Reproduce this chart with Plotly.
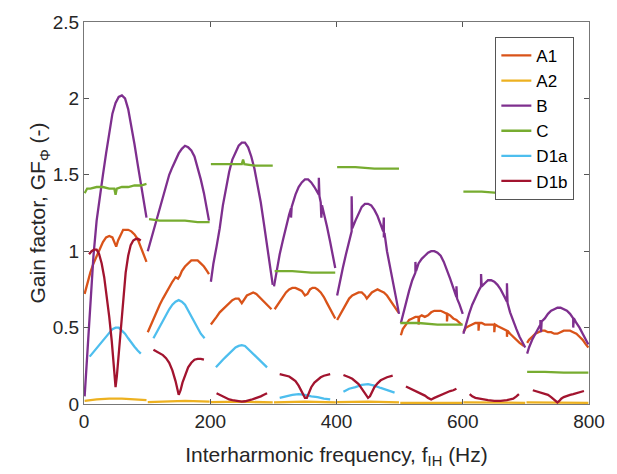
import plotly.graph_objects as go

# Gain factor per interharmonic band (Hz, gain); each inner list is one 100 Hz band
A1 = [
    [(1, 0.72), (5, 0.79), (10, 0.86), (15, 0.92), (20, 0.97), (25, 1.02), (30, 1.06), (35, 1.09),
     (40, 1.10), (45, 1.09), (48, 1.06), (51, 1.03), (54, 1.07), (58, 1.11), (62, 1.14), (66, 1.14),
     (70, 1.14), (75, 1.13), (80, 1.11), (85, 1.08), (90, 1.03), (95, 0.98), (99, 0.93)],
    [(101, 0.47), (105, 0.51), (110, 0.56), (115, 0.61), (120, 0.65), (125, 0.69), (130, 0.73),
     (135, 0.77), (140, 0.80), (145, 0.83), (149, 0.82), (152, 0.84), (155, 0.87), (160, 0.90),
     (165, 0.92), (170, 0.94), (175, 0.94), (180, 0.94), (185, 0.92), (190, 0.90), (195, 0.87), (198, 0.85)],
    [(201, 0.52), (205, 0.54), (210, 0.57), (215, 0.60), (220, 0.62), (225, 0.64), (230, 0.66),
     (235, 0.68), (240, 0.69), (245, 0.69), (250, 0.66), (253, 0.68), (258, 0.71), (263, 0.72),
     (268, 0.73), (273, 0.72), (278, 0.70), (283, 0.68), (288, 0.66), (293, 0.64), (297, 0.62)],
    [(302, 0.62), (305, 0.64), (310, 0.67), (315, 0.70), (320, 0.73), (325, 0.75), (330, 0.76),
     (335, 0.76), (340, 0.75), (345, 0.74), (350, 0.71), (354, 0.72), (358, 0.75), (362, 0.76),
     (366, 0.76), (370, 0.75), (375, 0.73), (380, 0.70), (385, 0.66), (390, 0.62), (395, 0.58), (398, 0.56)],
    [(401, 0.55), (405, 0.58), (410, 0.62), (415, 0.66), (420, 0.69), (425, 0.71), (430, 0.72),
     (435, 0.73), (440, 0.73), (445, 0.71), (448, 0.69), (452, 0.71), (456, 0.73), (460, 0.74),
     (465, 0.75), (470, 0.74), (475, 0.73), (480, 0.71), (485, 0.68), (490, 0.65), (495, 0.62), (498, 0.60)],
    [(502, 0.45), (505, 0.49), (510, 0.52), (515, 0.55), (520, 0.56), (525, 0.57), (530, 0.57),
     (530, 0.52), (531, 0.57), (535, 0.58), (540, 0.57), (545, 0.58), (550, 0.60), (555, 0.61),
     (560, 0.61), (565, 0.61), (570, 0.60), (575, 0.59), (575, 0.54), (576, 0.59), (580, 0.58),
     (585, 0.56), (590, 0.55), (595, 0.53), (598, 0.52)],
    [(601, 0.47), (605, 0.50), (610, 0.51), (615, 0.52), (620, 0.53), (625, 0.53), (625, 0.48),
     (626, 0.53), (630, 0.53), (635, 0.52), (640, 0.52), (645, 0.52), (650, 0.52), (650, 0.47),
     (651, 0.52), (655, 0.51), (660, 0.50), (665, 0.49), (670, 0.48), (670, 0.44), (671, 0.48),
     (675, 0.46), (680, 0.44), (685, 0.42), (690, 0.40), (697, 0.38)],
    [(702, 0.40), (705, 0.42), (710, 0.44), (715, 0.46), (720, 0.47), (725, 0.48), (730, 0.48),
     (735, 0.47), (740, 0.47), (745, 0.46), (750, 0.46), (755, 0.47), (760, 0.48), (765, 0.48),
     (770, 0.48), (775, 0.47), (780, 0.46), (785, 0.44), (790, 0.42), (795, 0.39), (799, 0.37)],
]

A2 = [
    [(1, 0.020), (20, 0.030), (40, 0.035), (60, 0.035), (80, 0.030), (99, 0.025)],
    [(101, 0.012), (130, 0.018), (160, 0.020), (199, 0.015)],
    [(201, 0.012), (250, 0.015), (299, 0.010)],
    [(301, 0.010), (350, 0.015), (399, 0.010)],
    [(401, 0.012), (450, 0.015), (499, 0.010)],
    [(501, 0.008), (550, 0.010), (599, 0.008)],
    [(601, 0.010), (650, 0.010), (699, 0.008)],
    [(701, 0.010), (750, 0.010), (799, 0.008)],
]

B = [
    [(1, 0.05), (5, 0.30), (10, 0.62), (15, 0.97), (20, 1.20), (25, 1.36), (30, 1.50), (35, 1.64),
     (40, 1.78), (45, 1.90), (50, 1.97), (55, 2.01), (60, 2.02), (65, 2.00), (70, 1.93), (75, 1.82),
     (80, 1.70), (85, 1.57), (90, 1.45), (95, 1.33), (99, 1.22)],
    [(101, 1.00), (105, 1.06), (110, 1.13), (115, 1.20), (120, 1.27), (125, 1.35), (130, 1.43),
     (135, 1.50), (140, 1.55), (145, 1.60), (150, 1.64), (155, 1.67), (160, 1.69), (165, 1.68),
     (170, 1.66), (175, 1.62), (180, 1.55), (185, 1.47), (190, 1.38), (195, 1.27), (198, 1.20)],
    [(201, 0.80), (205, 0.92), (210, 1.03), (215, 1.15), (220, 1.30), (225, 1.42), (230, 1.52),
     (235, 1.60), (240, 1.65), (245, 1.69), (250, 1.71), (255, 1.71), (260, 1.68), (265, 1.62),
     (270, 1.54), (275, 1.43), (280, 1.32), (285, 1.18), (290, 1.04), (295, 0.90), (299, 0.78)],
    [(301, 0.77), (305, 0.87), (310, 0.98), (315, 1.07), (320, 1.16), (325, 1.24), (328, 1.28),
     (328, 1.22), (329, 1.29), (335, 1.37), (340, 1.42), (345, 1.45), (350, 1.47), (355, 1.47),
     (360, 1.45), (365, 1.42), (370, 1.38), (372, 1.37), (372, 1.48), (373, 1.36), (375, 1.32),
     (376, 1.22), (377, 1.30), (380, 1.25), (385, 1.16), (390, 1.06), (395, 0.96), (398, 0.89)],
    [(401, 0.71), (405, 0.80), (410, 0.89), (415, 0.98), (420, 1.07), (424, 1.13), (424, 1.36),
     (425, 1.15), (430, 1.20), (435, 1.25), (440, 1.29), (445, 1.31), (450, 1.31), (455, 1.30),
     (460, 1.27), (465, 1.23), (470, 1.18), (474, 1.13), (475, 1.22), (475, 1.09), (476, 1.12),
     (480, 1.00), (485, 0.90), (490, 0.78), (495, 0.68), (499, 0.59)],
    [(502, 0.53), (505, 0.58), (510, 0.66), (515, 0.74), (520, 0.81), (525, 0.86), (525, 0.93),
     (526, 0.87), (530, 0.92), (535, 0.95), (540, 0.97), (545, 0.99), (550, 1.00), (555, 1.00),
     (560, 0.99), (565, 0.97), (570, 0.93), (575, 0.88), (580, 0.82), (585, 0.76), (590, 0.70),
     (590, 0.77), (591, 0.69), (595, 0.65), (600, 0.59)],
    [(601, 0.46), (605, 0.52), (610, 0.59), (615, 0.65), (620, 0.70), (625, 0.74), (629, 0.77),
     (629, 0.85), (630, 0.77), (635, 0.79), (640, 0.81), (645, 0.81), (650, 0.80), (655, 0.78),
     (660, 0.75), (665, 0.71), (670, 0.67), (670, 0.79), (671, 0.66), (675, 0.60), (680, 0.54),
     (685, 0.49), (690, 0.44), (695, 0.40), (699, 0.37)],
    [(702, 0.33), (705, 0.37), (710, 0.42), (715, 0.46), (720, 0.50), (723, 0.52), (723, 0.55),
     (724, 0.47), (725, 0.54), (730, 0.56), (735, 0.59), (740, 0.61), (745, 0.62), (750, 0.63),
     (755, 0.63), (760, 0.62), (765, 0.61), (770, 0.59), (775, 0.56), (775, 0.50), (776, 0.56),
     (780, 0.53), (785, 0.50), (790, 0.46), (795, 0.42), (799, 0.39)],
]

C = [
    [(1, 1.38), (5, 1.41), (10, 1.41), (20, 1.42), (30, 1.42), (40, 1.41), (48, 1.41), (50, 1.37),
     (52, 1.41), (60, 1.42), (70, 1.42), (80, 1.43), (90, 1.43), (99, 1.44)],
    [(103, 1.21), (120, 1.20), (140, 1.20), (160, 1.20), (180, 1.19), (199, 1.19)],
    [(201, 1.57), (220, 1.57), (240, 1.57), (250, 1.57), (252, 1.60), (254, 1.57), (270, 1.56), (299, 1.56)],
    [(302, 0.87), (330, 0.87), (360, 0.86), (398, 0.86)],
    [(401, 1.55), (430, 1.55), (460, 1.54), (499, 1.54)],
    [(501, 0.53), (530, 0.53), (560, 0.52), (600, 0.52)],
    [(601, 1.39), (630, 1.39), (660, 1.38), (699, 1.38)],
    [(702, 0.21), (730, 0.21), (760, 0.205), (799, 0.205)],
]

D1a = [
    [(9, 0.31), (15, 0.34), (20, 0.365), (25, 0.39), (30, 0.415), (35, 0.44), (40, 0.465), (45, 0.49),
     (50, 0.50), (55, 0.50), (60, 0.48), (65, 0.46), (70, 0.43), (75, 0.40), (80, 0.375), (85, 0.35), (90, 0.33)],
    [(110, 0.43), (115, 0.47), (120, 0.51), (125, 0.55), (130, 0.58), (135, 0.62), (140, 0.65),
     (145, 0.67), (150, 0.68), (155, 0.67), (160, 0.65), (165, 0.61), (170, 0.57), (175, 0.53),
     (180, 0.50), (185, 0.46), (191, 0.43)],
    [(209, 0.24), (215, 0.27), (220, 0.29), (225, 0.31), (230, 0.33), (235, 0.35), (240, 0.37),
     (245, 0.38), (250, 0.385), (255, 0.38), (260, 0.36), (265, 0.34), (270, 0.32), (275, 0.30),
     (280, 0.28), (285, 0.26), (290, 0.24)],
    [(310, 0.04), (320, 0.05), (330, 0.06), (340, 0.065), (350, 0.06), (360, 0.05), (370, 0.045),
     (380, 0.035), (390, 0.03)],
    [(411, 0.08), (420, 0.10), (430, 0.11), (440, 0.125), (450, 0.13), (460, 0.12), (470, 0.105),
     (480, 0.09), (492, 0.075)],
]

D1b = [
    [(8, 0.98), (12, 1.00), (16, 1.01), (20, 1.01), (24, 0.98), (28, 0.92), (32, 0.83), (36, 0.71),
     (40, 0.57), (44, 0.41), (47, 0.27), (50, 0.11), (52, 0.18), (55, 0.32), (58, 0.47), (62, 0.66),
     (66, 0.86), (70, 0.97), (74, 1.04), (78, 1.07), (82, 1.08), (86, 1.08), (90, 1.07)],
    [(110, 0.355), (115, 0.345), (120, 0.33), (125, 0.32), (130, 0.30), (135, 0.27), (140, 0.22),
     (145, 0.15), (150, 0.06), (153, 0.09), (156, 0.14), (160, 0.19), (165, 0.24), (170, 0.27),
     (175, 0.29), (180, 0.295), (185, 0.295), (190, 0.29)],
    [(210, 0.07), (215, 0.06), (220, 0.045), (225, 0.035), (230, 0.03), (235, 0.025), (240, 0.02),
     (245, 0.018), (250, 0.015), (255, 0.018), (260, 0.022), (265, 0.028), (270, 0.035), (275, 0.04),
     (280, 0.05), (285, 0.06), (290, 0.07)],
    [(310, 0.195), (315, 0.19), (320, 0.185), (325, 0.18), (330, 0.165), (335, 0.15), (340, 0.12),
     (345, 0.08), (350, 0.04), (353, 0.04), (356, 0.07), (360, 0.11), (365, 0.14), (370, 0.16),
     (375, 0.175), (380, 0.185), (385, 0.19), (390, 0.195)],
    [(411, 0.19), (415, 0.185), (420, 0.175), (425, 0.165), (430, 0.15), (435, 0.13), (440, 0.10),
     (445, 0.07), (450, 0.04), (453, 0.05), (456, 0.08), (460, 0.11), (465, 0.135), (470, 0.155),
     (475, 0.165), (480, 0.175), (489, 0.185)],
    [(510, 0.115), (515, 0.105), (520, 0.095), (525, 0.09), (530, 0.08), (535, 0.07), (540, 0.055),
     (545, 0.04), (550, 0.03), (555, 0.04), (560, 0.05), (565, 0.06), (570, 0.07), (575, 0.08),
     (580, 0.085), (585, 0.09), (590, 0.10)],
    [(611, 0.065), (615, 0.05), (620, 0.04), (625, 0.035), (630, 0.03), (640, 0.025), (650, 0.02),
     (660, 0.02), (670, 0.025), (675, 0.03), (680, 0.035), (685, 0.05), (689, 0.065)],
    [(711, 0.09), (715, 0.085), (720, 0.08), (725, 0.075), (730, 0.07), (735, 0.06), (740, 0.045),
     (745, 0.03), (750, 0.01), (753, 0.02), (756, 0.035), (760, 0.045), (765, 0.055), (770, 0.06),
     (775, 0.065), (780, 0.07), (785, 0.075), (792, 0.085)],
]

series_names = ["A1", "A2", "B", "C", "D1a", "D1b"]
series_data = [A1, A2, B, C, D1a, D1b]
series_colors = ["#D95319", "#EDB120", "#7E2F8E", "#77AC30", "#4DBEEE", "#A2142F"]


def flatten(bands):
    """Join the bands into one trace, leaving a gap between them."""
    xs, ys = [], []
    for band in bands:
        for f, g in band:
            xs.append(f)
            ys.append(g)
        xs.append(None)
        ys.append(None)
    return xs, ys


fig = go.Figure()
for name, bands, color in zip(series_names, series_data, series_colors):
    xs, ys = flatten(bands)
    fig.add_trace(go.Scatter(
        x=xs, y=ys, mode="lines", name=name,
        line=dict(color=color, width=2.3),
        connectgaps=False,
    ))

FONT = "Liberation Sans, Arial, sans-serif"
axis_font = dict(family=FONT, size=19, color="#262626")
title_font = dict(family=FONT, size=21, color="#262626")

fig.update_layout(
    width=617, height=474,
    margin=dict(l=84, r=19, t=20, b=70),
    paper_bgcolor="white",
    plot_bgcolor="white",
    showlegend=True,
    legend=dict(
        x=0.971, y=0.961, xanchor="right", yanchor="top",
        bgcolor="white", bordercolor="#555555", borderwidth=1,
        font=dict(family=FONT, size=17, color="#000000"),
        tracegroupgap=0,
    ),
    xaxis=dict(
        range=[0, 800], tickvals=[0, 200, 400, 600, 800],
        ticks="inside", ticklen=5, tickcolor="#555555",
        showline=True, linecolor="#777777", linewidth=1, mirror="allticks",
        showgrid=False, zeroline=False,
        tickfont=axis_font,
        title=dict(text="Interharmonic frequency, f<sub>IH</sub> (Hz)", font=title_font, standoff=16),
    ),
    yaxis=dict(
        range=[0, 2.5], tickvals=[0, 0.5, 1, 1.5, 2, 2.5],
        ticktext=["0", "0.5", "1", "1.5", "2", "2.5"],
        ticks="inside", ticklen=5, tickcolor="#555555",
        showline=True, linecolor="#777777", linewidth=1, mirror="allticks",
        showgrid=False, zeroline=False,
        tickfont=axis_font,
        title=dict(text="Gain factor, GF<sub>Φ</sub> (-)", font=title_font, standoff=0),
    ),
)

fig.write_html("out.html")
